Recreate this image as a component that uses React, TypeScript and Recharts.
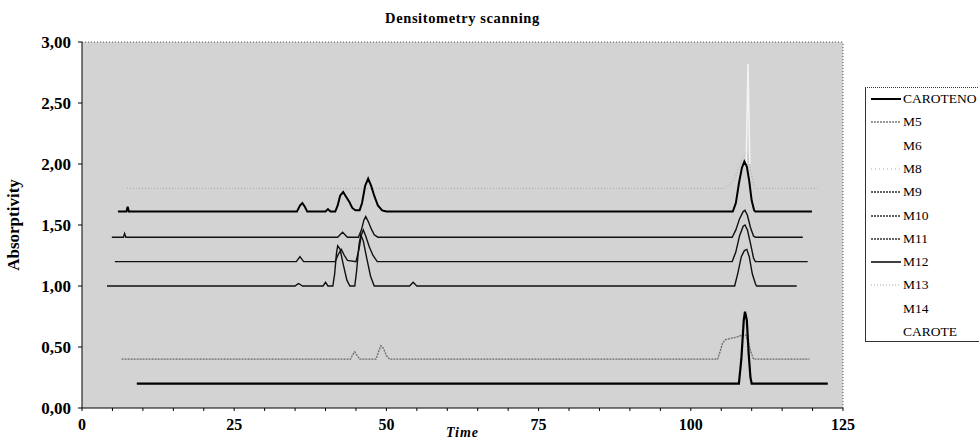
import React from "react";
import { LineChart, Line, XAxis, YAxis, CartesianGrid, ReferenceLine, Label } from "recharts";

// ---- data ----
const carotenoTime = [9, 107.9, 108.3, 108.7, 108.9, 109.2, 109.5, 109.8, 110.0, 122.5];
const carotenoValue = [0.2, 0.2, 0.4, 0.72, 0.79, 0.72, 0.45, 0.25, 0.2, 0.2];

const m5Time = [6.5, 44.1, 44.5, 44.8, 45.2, 45.6, 48.3, 48.7, 49.1, 49.5, 50.0, 50.5, 104.4, 104.8, 105.2, 105.7, 106.5, 107.5, 108.5, 109.0, 109.4, 109.8, 110.3, 119.5];
const m5Value = [0.4, 0.4, 0.44, 0.46, 0.43, 0.4, 0.4, 0.46, 0.51, 0.49, 0.43, 0.4, 0.4, 0.46, 0.53, 0.56, 0.57, 0.58, 0.6, 0.6, 0.55, 0.47, 0.4, 0.4];

const m8Time = [7.4, 105.5, 107, 108.0, 108.5, 109.2, 109.8, 110.5, 120.8];
const m8Value = [1.8, 1.8, 1.86, 1.98, 2.05, 2.1, 1.95, 1.8, 1.8];

const m14Time = [109.1, 109.4, 109.7];
const m14Value = [2.0, 2.82, 2.0];

const m12Time = [5.9, 7.3, 7.5, 7.7, 35.3, 35.8, 36.2, 36.6, 37.0, 40.0, 40.4, 40.8, 41.6, 42.0, 42.4, 42.9, 43.4, 43.9, 44.4, 44.9, 45.6, 46.0, 46.5, 47.0, 47.5, 48.0, 48.6, 49.3, 50.0, 106.9, 107.4, 107.9, 108.4, 108.8, 109.2, 109.6, 110.0, 110.4, 110.6, 119.9];
const m12Value = [1.61, 1.61, 1.65, 1.61, 1.61, 1.66, 1.68, 1.65, 1.61, 1.61, 1.63, 1.61, 1.61, 1.66, 1.74, 1.77, 1.73, 1.69, 1.64, 1.62, 1.62, 1.68, 1.82, 1.88, 1.82, 1.74, 1.66, 1.62, 1.61, 1.61, 1.68, 1.84, 1.97, 2.02, 1.98, 1.86, 1.7, 1.62, 1.61, 1.61];

const m9Time = [4.9, 6.8, 7.0, 7.2, 42.0, 42.4, 42.8, 43.2, 43.6, 45.4, 45.9, 46.3, 46.6, 47.0, 47.5, 48.0, 48.6, 106.8, 107.4, 108.0, 108.6, 108.9, 109.3, 109.8, 110.3, 110.6, 118.4];
const m9Value = [1.4, 1.4, 1.43, 1.4, 1.4, 1.42, 1.44, 1.42, 1.4, 1.4, 1.46, 1.54, 1.57, 1.53, 1.47, 1.42, 1.4, 1.4, 1.46, 1.55, 1.61, 1.62, 1.58, 1.48, 1.41, 1.4, 1.4];

const m10Time = [5.4, 35.2, 35.5, 35.8, 36.1, 36.4, 41.6, 42.1, 42.6, 43.1, 43.6, 45.0, 45.5, 45.9, 46.2, 46.6, 47.2, 47.8, 48.5, 106.8, 107.4, 108.0, 108.6, 108.9, 109.3, 109.8, 110.3, 110.6, 119.2];
const m10Value = [1.2, 1.2, 1.22, 1.24, 1.22, 1.2, 1.2, 1.26, 1.3, 1.25, 1.21, 1.2, 1.3, 1.42, 1.46, 1.41, 1.32, 1.25, 1.2, 1.2, 1.28, 1.41, 1.49, 1.5, 1.46, 1.35, 1.23, 1.2, 1.2];

const m11Time = [4.1, 35.0, 35.4, 35.6, 35.9, 36.2, 39.6, 40.0, 40.4, 41.2, 41.5, 41.8, 42.0, 42.4, 42.9, 43.5, 44.0, 44.8, 45.1, 45.5, 45.8, 46.2, 46.8, 47.4, 48.0, 53.8, 54.4, 55.0, 107.2, 107.7, 108.3, 108.8, 109.2, 109.6, 110.1, 110.6, 110.8, 117.4];
const m11Value = [1.0, 1.0, 1.015, 1.02, 1.01, 1.0, 1.0, 1.03, 1.0, 1.0, 1.1, 1.27, 1.33, 1.3, 1.18, 1.05, 1.0, 1.0, 1.12, 1.34, 1.42, 1.37, 1.22, 1.08, 1.0, 1.0, 1.03, 1.0, 1.0, 1.1, 1.24, 1.29, 1.3, 1.24, 1.1, 1.02, 1.0, 1.0];

const yTicks = [0, 0.5, 1, 1.5, 2, 2.5, 3];
const xTicks = [0, 5, 10, 15, 20, 25, 30, 35, 40, 45, 50, 55, 60, 65, 70, 75, 80, 85, 90, 95, 100, 105, 110, 115, 120, 125];
const xLabelTicks = [0, 25, 50, 75, 100, 125];

const legendNames = ["CAROTENO", "M5", "M6", "M8", "M9", "M10", "M11", "M12", "M13", "M14", "CAROTE"];
const legendColors = ["#000", "#777", "none", "#aaa", "#333", "#333", "#333", "#111", "#aaa", "none", "none"];
const legendWidths = [2, 1.3, 0, 1, 1.3, 1.3, 1.3, 1.6, 1, 0, 0];
const legendDash = ["", "2 1", "", "1 3", "2 1", "2 1", "2 1", "", "1 2", "", ""];

const pts = (times: number[], values: number[]) => times.map((t, i) => ({ t, v: values[i] }));

const serif = "'Liberation Serif', 'Times New Roman', serif";

const XTick = (props: any) => {
  const { x, y, payload } = props;
  if (!xLabelTicks.includes(payload.value)) return <g />;
  return (
    <text x={x} y={y} dy={17} textAnchor="middle" fontFamily={serif} fontWeight="bold" fontSize={16} fill="#000">
      {payload.value}
    </text>
  );
};

export default function App() {
  return (
    <div style={{ position: "absolute", left: 0, top: 0, width: 979, height: 443, background: "#fff", fontFamily: serif }}>
      <div
        style={{
          position: "absolute",
          left: 82,
          width: 761,
          top: 10,
          textAlign: "center",
          fontWeight: "bold",
          fontSize: 14.5,
          letterSpacing: 0.6,
          color: "#000",
          fontFamily: serif,
        }}
      >
        Densitometry scanning
      </div>
      <LineChart width={979} height={443} margin={{ top: 42, right: 136, bottom: 0, left: 0 }}>
        <CartesianGrid fill="#d3d3d3" horizontal={false} vertical={false} />
        <XAxis
          dataKey="t"
          type="number"
          domain={[0, 125]}
          ticks={xTicks}
          interval={0}
          height={35}
          tickSize={3}
          tick={<XTick />}
          axisLine={{ stroke: "#000" }}
          tickLine={{ stroke: "#000" }}
          allowDataOverflow
        >
          <Label
            value="Time"
            position="insideBottom"
            offset={6}
            style={{ fontFamily: serif, fontWeight: "bold", fontStyle: "italic", fontSize: 14, letterSpacing: 1, fill: "#000" }}
          />
        </XAxis>
        <YAxis
          type="number"
          domain={[0, 3]}
          ticks={yTicks}
          width={82}
          tickSize={4}
          tickMargin={7}
          tickFormatter={(v: number) => v.toFixed(2).replace(".", ",")}
          tick={{ fontFamily: serif, fontWeight: "bold", fontSize: 17, fill: "#000" }}
          axisLine={{ stroke: "#000" }}
          tickLine={{ stroke: "#000" }}
        >
          <Label
            value="Absorptivity"
            angle={-90}
            position="insideLeft"
            offset={13}
            style={{ textAnchor: "middle", fontFamily: serif, fontWeight: "bold", fontSize: 17, fill: "#000" }}
          />
        </YAxis>
        <ReferenceLine y={3} stroke="#555" strokeDasharray="1 2" />
        <ReferenceLine x={125} stroke="#555" strokeDasharray="1 2" />
        <Line data={pts(m8Time, m8Value)} dataKey="v" stroke="#a8a8a8" strokeWidth={1} strokeDasharray="1 2" dot={false} isAnimationActive={false} />
        <Line data={pts(m14Time, m14Value)} dataKey="v" stroke="#f4f4f4" strokeWidth={1.5} dot={false} isAnimationActive={false} />
        <Line data={pts(m5Time, m5Value)} dataKey="v" stroke="#6a6a6a" strokeWidth={1.3} strokeDasharray="2 1" dot={false} isAnimationActive={false} />
        <Line data={pts(m11Time, m11Value)} dataKey="v" stroke="#111" strokeWidth={1.4} dot={false} isAnimationActive={false} />
        <Line data={pts(m10Time, m10Value)} dataKey="v" stroke="#111" strokeWidth={1.4} dot={false} isAnimationActive={false} />
        <Line data={pts(m9Time, m9Value)} dataKey="v" stroke="#111" strokeWidth={1.4} dot={false} isAnimationActive={false} />
        <Line data={pts(m12Time, m12Value)} dataKey="v" stroke="#000" strokeWidth={2} dot={false} isAnimationActive={false} />
        <Line data={pts(carotenoTime, carotenoValue)} dataKey="v" stroke="#000" strokeWidth={2.2} dot={false} isAnimationActive={false} />
      </LineChart>
      <div
        style={{
          position: "absolute",
          left: 865,
          top: 87,
          width: 113,
          height: 253,
          border: "1px solid #333",
          borderTop: "1px dotted #333",
          background: "#fff",
        }}
      >
        {legendNames.map((name, i) => (
          <div key={name} style={{ position: "absolute", left: 0, top: 3 + i * 23.3, height: 16, width: 112 }}>
            <svg width={32} height={16} style={{ position: "absolute", left: 4, top: 0 }}>
              {legendColors[i] !== "none" && (
                <line x1={1} y1={8} x2={31} y2={8} stroke={legendColors[i]} strokeWidth={legendWidths[i]} strokeDasharray={legendDash[i]} />
              )}
            </svg>
            <span style={{ position: "absolute", left: 37, top: 0, fontSize: 13.5, lineHeight: "16px", color: "#000", whiteSpace: "nowrap", fontFamily: serif }}>
              {name}
            </span>
          </div>
        ))}
      </div>
    </div>
  );
}
